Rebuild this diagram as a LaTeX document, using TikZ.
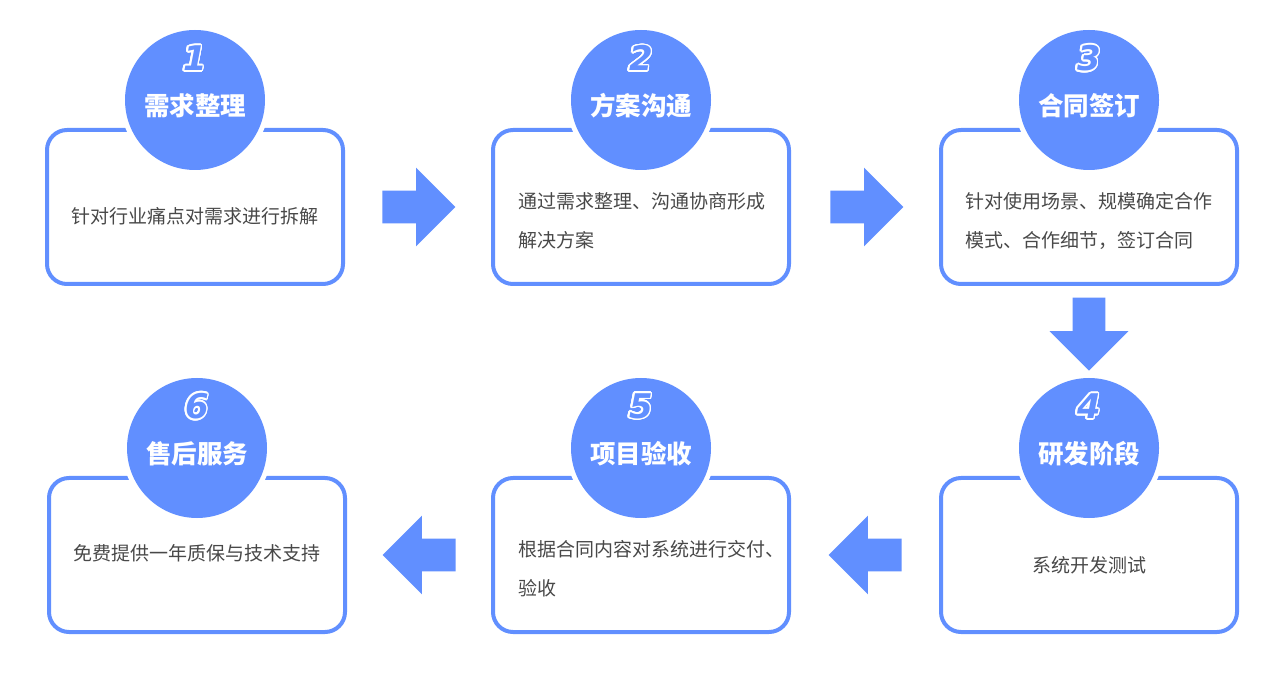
\documentclass[tikz,border=0pt]{standalone}
\usepackage{fontspec}
\usepackage[copies]{contour}
\usetikzlibrary{shapes.arrows,calc}
\newfontfamily\cjk{Noto Sans CJK SC}
\newfontfamily\numfont{DejaVu Sans}
\definecolor{flowblue}{RGB}{97,143,255}
\definecolor{flowtext}{RGB}{72,72,72}
\contourlength{0.8pt}
\contournumber{24}

\begin{document}
\begin{tikzpicture}[
    x=0.5pt, y=-0.5pt,
    card/.style={
      draw=flowblue, line width=2pt, rounded corners=10pt,
      minimum width=148pt, minimum height=77pt, inner sep=0pt},
    disc/.style={
      circle, fill=flowblue, minimum size=70pt, inner sep=0pt,
      preaction={draw=white, line width=5pt},
      text height=15.5pt, text depth=0pt,
      text=white, font=\cjk\bfseries\fontsize{12.75}{14}\selectfont},
    num/.style={
      text=flowblue, inner sep=0pt,
      font=\numfont\bfseries\itshape\fontsize{17}{18}\selectfont},
    desc/.style={
      align=left, text=flowtext, inner sep=0pt,
      font=\cjk\fontsize{9.5}{19.5}\selectfont},
    fat/.style={
      single arrow, fill=flowblue, inner sep=8pt,
      single arrow head extend=11.5pt, minimum height=36.5pt}]
  \useasboundingbox (0,0) rectangle (1285,673);

  \node [card] (b1) at (195,207) {};
  \node [card] (b2) at (641,207) {};
  \node [card] (b3) at (1089,207) {};
  \node [card] (b4) at (1089,555) {};
  \node [card] (b5) at (641,555) {};
  \node [card] (b6) at (197,555) {};

  \node [disc] (c1) at ([yshift=14pt]b1.north) {需求整理};
  \node [disc] (c2) at ([yshift=14pt]b2.north) {方案沟通};
  \node [disc] (c3) at ([yshift=14pt]b3.north) {合同签订};
  \node [disc] (c4) at ([yshift=14pt]b4.north) {研发阶段};
  \node [disc] (c5) at ([yshift=14pt]b5.north) {项目验收};
  \node [disc] (c6) at ([yshift=14pt]b6.north) {售后服务};

  \node [num] (n1) at ([yshift=20.5pt]c1.center) {\contour{white}{1}};
  \node [num] (n2) at ([yshift=20.5pt]c2.center) {\contour{white}{2}};
  \node [num] (n3) at ([yshift=20.5pt]c3.center) {\contour{white}{3}};
  \node [num] (n4) at ([yshift=20.5pt]c4.center) {\contour{white}{4}};
  \node [num] (n5) at ([yshift=20.5pt]c5.center) {\contour{white}{5}};
  \node [num] (n6) at ([yshift=20.5pt]c6.center) {\contour{white}{6}};

  \node [desc] (t1) at ([yshift=-4.5pt]b1.center) {针对行业痛点对需求进行拆解};
  \node [desc, anchor=west] (t2) at ([xshift=13.5pt,yshift=-7pt]b2.west) {通过需求整理、沟通协商形成\\解决方案};
  \node [desc, anchor=west] (t3) at ([xshift=13pt,yshift=-7pt]b3.west) {针对使用场景、规模确定合作\\模式、合作细节，签订合同};
  \node [desc] (t4) at ([yshift=-5pt]b4.center) {系统开发测试};
  \node [desc, anchor=west] (t5) at ([xshift=13.5pt,yshift=-7pt]b5.west) {根据合同内容对系统进行交付、\\验收};
  \node [desc] (t6) at ([yshift=1pt]b6.center) {免费提供一年质保与技术支持};

  \node [fat, anchor=tip] (a12) at ([xshift=-17.5pt]b2.west) {};
  \node [fat, anchor=tip] (a23) at ([xshift=-17.5pt]b3.west) {};
  \node [fat, anchor=tip, shape border rotate=270] (a34) at ([yshift=3.25pt]c4.north) {};
  \node [fat, anchor=tip, shape border rotate=180] (a45) at ([xshift=18.5pt]b5.east) {};
  \node [fat, anchor=tip, shape border rotate=180] (a56) at ([xshift=17.5pt]b6.east) {};
\end{tikzpicture}
\end{document}
